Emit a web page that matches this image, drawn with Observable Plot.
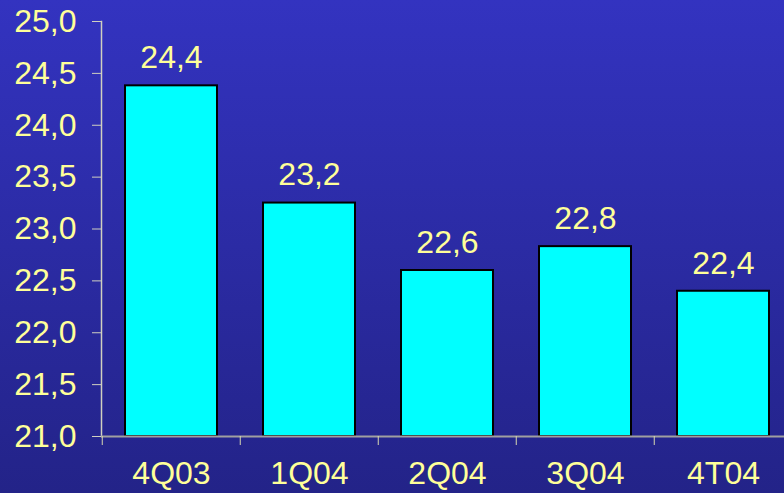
<!DOCTYPE html>
<html><head><meta charset="utf-8">
<script src="https://cdn.jsdelivr.net/npm/d3@7"></script>
<script src="https://cdn.jsdelivr.net/npm/@observablehq/plot@0.6"></script>
<style>
html,body{margin:0;padding:0;width:784px;height:493px;overflow:hidden;background:linear-gradient(#3333c0,#232388);}
#chart svg{display:block;}
</style></head>
<body><div id="chart"></div>
<script>
const categories = ["4Q03","1Q04","2Q04","3Q04","4T04"];
const values = [24.38, 23.25, 22.6, 22.83, 22.4];
const valueLabels = ["24,4","23,2","22,6","22,8","22,4"];
const yTicks = [21,21.5,22,22.5,23,23.5,24,24.5,25];

const data = categories.map((c,i)=>({cat:c, v:values[i], label:valueLabels[i]}));
const yellow = "#ffff99";
const fmt = d => d.toFixed(1).replace(".", ",");
const fs = 32;

const chart = Plot.plot({
  width: 784, height: 493,
  marginLeft: 101, marginRight: 0, marginTop: 21, marginBottom: 57,
  style: {background: "transparent", fontFamily: "'Liberation Sans', Arial, sans-serif", fontSize: fs + "px", color: yellow, overflow: "visible"},
  x: {domain: categories, range: [101, 793.5], paddingInner: 0.33, paddingOuter: 0.165, label: null},
  y: {domain: [21, 25], label: null},
  marks: [
    Plot.frame({anchor: "left", stroke: "#d0d0c0", strokeWidth: 1.5}),
    Plot.axisY({ticks: yTicks, tickFormat: fmt, tickSize: 9, tickPadding: 16, stroke: "#d0d0c0", strokeOpacity: 1, fill: yellow, fontSize: fs, label: null}),
    Plot.barY(data, {x: "cat", y1: 21, y2: "v", fill: "#00ffff", stroke: "#000", strokeWidth: 2}),
    Plot.ruleY([21], {stroke: "#a0a0a0", strokeWidth: 2}),
    Plot.axisX({tickSize: 9, text: null, dx: -69.25, stroke: "#d8d8b0", strokeOpacity: 1, label: null}),
    Plot.axisX({tickSize: 0, tickPadding: 25, fill: yellow, fontSize: fs, label: null}),
    Plot.text(data, {x: "cat", y: "v", text: "label", dy: -28, fill: yellow, fontSize: fs})
  ]
});
document.getElementById("chart").appendChild(chart);
</script></body></html>
